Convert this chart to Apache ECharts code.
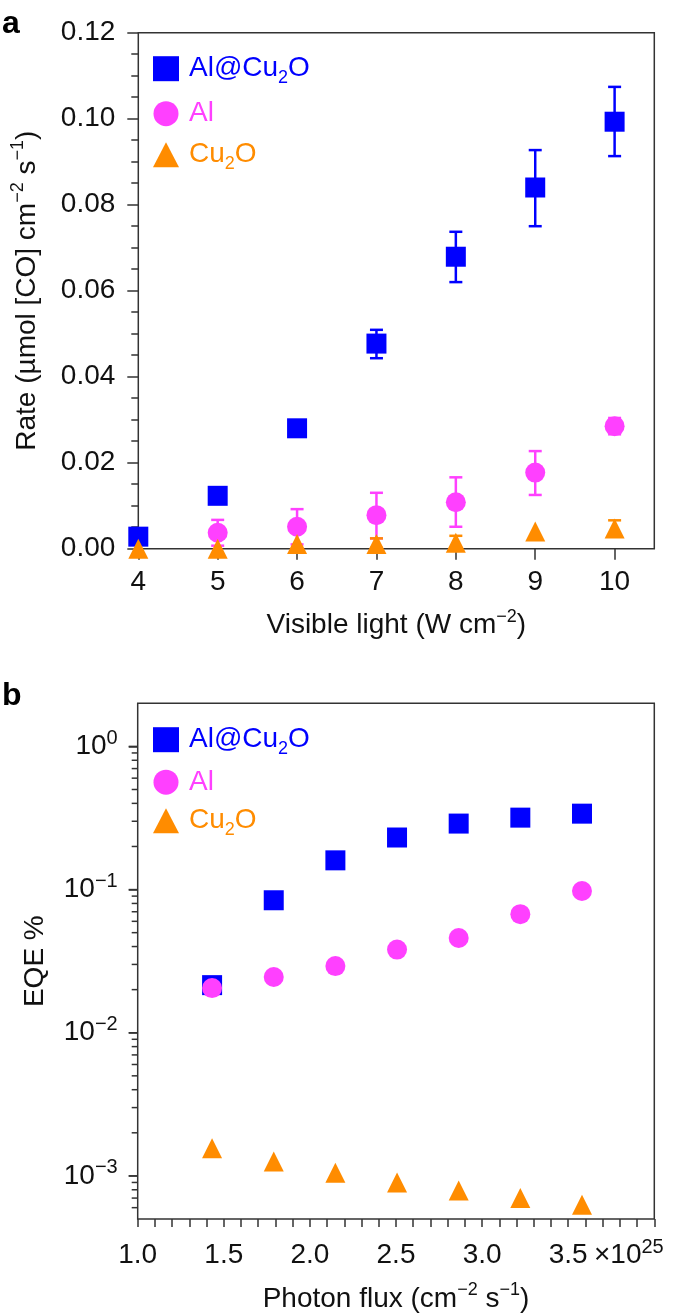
<!DOCTYPE html>
<html><head><meta charset="utf-8">
<script src="https://cdn.jsdelivr.net/npm/echarts@6/dist/echarts.min.js"></script>
<style>html,body{margin:0;padding:0;background:#fff}#c{width:675px;height:1315px}</style>
</head><body><div id="c"></div>
<script>
const FONT = '"Liberation Sans", Arial, Helvetica, sans-serif';
// ---------- Panel a data ----------
const lightPower = [4, 5, 6, 7, 8, 9, 10];
const rateAlCu2O     = [0.0028, 0.0123, 0.0280, 0.0477, 0.0679, 0.0840, 0.0993];
const rateAlCu2OLow  = [null,   null,   null,   0.0443, 0.0620, 0.0750, 0.0913];
const rateAlCu2OHigh = [null,   null,   null,   0.0509, 0.0737, 0.0927, 0.1074];
const rateAl     = [null, 0.0037, 0.0051, 0.0078, 0.0108, 0.0177, 0.0285];
const rateAlLow  = [null, 0.0007, 0.0010, 0.0024, 0.0051, 0.0125, 0.0266];
const rateAlHigh = [null, 0.0067, 0.0092, 0.0130, 0.0166, 0.0227, 0.0304];
const rateCu2O     = [0.0000, 0.0000, 0.0011, 0.0011, 0.0014, 0.0040, 0.0047];
const rateCu2OLow  = [null,   null,   null,   0.0002, 0.0002, null,   0.0030];
const rateCu2OHigh = [null,   null,   null,   0.0024, 0.0030, null,   0.0066];
const lightTicks = [4, 5, 6, 7, 8, 9, 10];
// ---------- Panel b data ----------
const photonFlux = [1.432, 1.790, 2.148, 2.506, 2.864, 3.222, 3.580];
const eqeAlCu2O = [0.0215, 0.0842, 0.160, 0.231, 0.289, 0.318, 0.339];
const eqeAl     = [0.0205, 0.0245, 0.0292, 0.0381, 0.0459, 0.0673, 0.0978];
const eqeCu2O   = [0.00156, 0.00126, 0.00105, 0.00090, 0.00079, 0.00070, 0.00063];
const fluxTickLabels = [1.0, 1.5, 2.0, 2.5, 3.0, 3.5];
const eqeMajorTicks = [0.001, 0.01, 0.1, 1];
const eqeMinorTicks = [0.0006, 0.0007, 0.0008, 0.0009,
  0.002, 0.003, 0.004, 0.005, 0.006, 0.007, 0.008, 0.009,
  0.02, 0.03, 0.04, 0.05, 0.06, 0.07, 0.08, 0.09,
  0.2, 0.3, 0.4, 0.5, 0.6, 0.7, 0.8, 0.9];
const seriesNames = ['Al@Cu2O', 'Al', 'Cu2O'];
const colors = ['#0000ff', '#ff40ff', '#ff8c00'];
const symbols = ['rect', 'circle', 'triangle'];

const AX = '#333';
const TXT = '#111';
const FLUX_MIN = 1, FLUX_MAX = 4, EQE_MIN = 0.0005, EQE_MAX = 2;

function pairs(xs, ys) { return xs.map((x, i) => [x, ys[i]]).filter(p => p[1] !== null); }
function errData(xs, lo, hi) { return xs.map((x, i) => [x, lo[i], hi[i]]).filter(p => p[1] !== null); }
function errRender(color) {
  return function (params, api) {
    const x = api.value(0), lo = api.value(1), hi = api.value(2);
    const a = api.coord([x, hi]), b = api.coord([x, lo]);
    const w = 6.5;
    const st = { stroke: color, lineWidth: 2.5 };
    return { type: 'group', children: [
      { type: 'line', shape: { x1: a[0], y1: a[1], x2: b[0], y2: b[1] }, style: st },
      { type: 'line', shape: { x1: a[0] - w, y1: a[1], x2: a[0] + w, y2: a[1] }, style: st },
      { type: 'line', shape: { x1: b[0] - w, y1: b[1], x2: b[0] + w, y2: b[1] }, style: st }
    ] };
  };
}
function tickRender(len) {
  return function (params, api) {
    const p = api.coord([api.value(0), api.value(1)]);
    return { type: 'line', shape: { x1: p[0] - len, y1: p[1], x2: p[0], y2: p[1] }, style: { stroke: AX, lineWidth: 1.5 } };
  };
}
const richBase = {
  t: { fontSize: 28, lineHeight: 36, fontFamily: FONT },
  s: { fontSize: 18, lineHeight: 23, verticalAlign: 'top', fontFamily: FONT }
};
const legendRich = {
  sp: { width: 5, lineHeight: 36 },
  t: { fontSize: 28, lineHeight: 30, fontFamily: FONT },
  sub: { fontSize: 18, lineHeight: 16, verticalAlign: 'bottom', fontFamily: FONT }
};
function legendFmt(name) {
  if (name === 'Al@Cu2O') return '{sp|}{t|Al@Cu}{sub|2}{t|O}';
  if (name === 'Cu2O') return '{sp|}{t|Cu}{sub|2}{t|O}';
  return '{sp|}{t|' + name + '}';
}
function legendCfg(top, gap) {
  return {
    left: 148, top: top, orient: 'vertical', itemWidth: 26, itemHeight: 25, itemGap: gap,
    selectedMode: false, formatter: legendFmt,
    textStyle: { rich: legendRich, fontSize: 28, fontFamily: FONT },
    data: seriesNames.map((n, i) => ({ name: n, icon: symbols[i], textStyle: { color: colors[i] } }))
  };
}
const tickStyle = { color: AX, width: 1.5 };
const option = {
  animation: false,
  backgroundColor: '#fff',
  textStyle: { fontFamily: FONT },
  grid: [
    { left: 138.3, top: 32.7, width: 516, height: 516, show: true, borderColor: AX, borderWidth: 1.5, backgroundColor: 'transparent' },
    { left: 137.7, top: 703.3, width: 516.6, height: 515.7, show: true, borderColor: AX, borderWidth: 1.5, backgroundColor: 'transparent' }
  ],
  legend: [legendCfg(49.7, 13), legendCfg(720.7, 10.5)],
  xAxis: [
    { gridIndex: 0, type: 'value', min: 4, max: 10.5, interval: 1,
      axisLine: { show: false }, splitLine: { show: false },
      axisTick: { length: 11, customValues: lightTicks, lineStyle: tickStyle },
      axisLabel: { customValues: lightTicks, margin: 18, fontSize: 28, lineHeight: 32, color: TXT, fontFamily: FONT },
      name: '{t|Visible light (W cm}{s|−2}{t|)}', nameLocation: 'middle', nameGap: 59,
      nameTextStyle: { color: TXT, rich: richBase } },
    { gridIndex: 1, type: 'value', min: FLUX_MIN, max: FLUX_MAX, interval: 0.5,
      axisLine: { show: false }, splitLine: { show: false },
      axisTick: { length: 8, lineStyle: tickStyle },
      minorTick: { show: true, splitNumber: 5, length: 8, lineStyle: tickStyle },
      axisLabel: { customValues: fluxTickLabels, formatter: v => v.toFixed(1), margin: 20, fontSize: 28, lineHeight: 32, color: TXT, fontFamily: FONT },
      name: '{t|Photon flux (cm}{s|−2}{t| s}{s|−1}{t|)}', nameLocation: 'middle', nameGap: 62,
      nameTextStyle: { color: TXT, rich: richBase } }
  ],
  yAxis: [
    { gridIndex: 0, type: 'value', min: 0, max: 0.12, interval: 0.02,
      axisLine: { show: false }, splitLine: { show: false },
      axisTick: { length: 11, lineStyle: tickStyle },
      minorTick: { show: true, splitNumber: 4, length: 7, lineStyle: tickStyle },
      axisLabel: { formatter: v => v.toFixed(2), margin: 23, fontSize: 28, color: TXT, fontFamily: FONT },
      name: '{t|Rate (µmol [CO] cm}{s|−2}{t| s}{s|−1}{t|)}', nameLocation: 'middle', nameGap: 93,
      nameTextStyle: { color: TXT, rich: richBase } },
    { gridIndex: 1, type: 'log', logBase: 10, min: EQE_MIN, max: EQE_MAX, position: 'left',
      axisLine: { show: false }, splitLine: { show: false },
      axisTick: { show: true, length: 9, customValues: eqeMajorTicks, lineStyle: tickStyle },
      axisLabel: { customValues: eqeMajorTicks, margin: 20, color: TXT,
        formatter: v => '{b|10}{e|' + String(Math.round(Math.log10(v))).replace('-', '−') + '}',
        rich: { b: { fontSize: 28, lineHeight: 36, fontFamily: FONT }, e: { fontSize: 20, lineHeight: 22, verticalAlign: 'top', fontFamily: FONT } } },
      name: 'EQE %', nameLocation: 'middle', nameGap: 80,
      nameTextStyle: { color: TXT, fontSize: 28, lineHeight: 36, fontFamily: FONT } }
  ],
  graphic: [
    { type: 'text', left: 2, top: 8, style: { text: 'a', font: 'bold 32px ' + FONT, fill: '#000' } },
    { type: 'text', left: 2, top: 680, style: { text: 'b', font: 'bold 32px ' + FONT, fill: '#000' } },
    { type: 'text', left: 594, top: 1237, style: { text: '{b|×10}{e|25}', fill: TXT,
      rich: { b: { fontSize: 28, lineHeight: 36, fontFamily: FONT }, e: { fontSize: 20, lineHeight: 22, verticalAlign: 'top', fontFamily: FONT } } } }
  ],
  series: [
    { type: 'custom', name: 'eqeMinorTicks', xAxisIndex: 1, yAxisIndex: 1, silent: true, clip: false, z: 10,
      renderItem: tickRender(6), data: eqeMinorTicks.map(v => [FLUX_MIN, v]), encode: { x: 0, y: 1 } },
    { type: 'custom', name: 'eqeMajorTicks', xAxisIndex: 1, yAxisIndex: 1, silent: true, clip: false, z: 10,
      renderItem: tickRender(9), data: eqeMajorTicks.map(v => [FLUX_MIN, v]), encode: { x: 0, y: 1 } }
  ]
};
const aVals = [rateAlCu2O, rateAl, rateCu2O];
const aLo = [rateAlCu2OLow, rateAlLow, rateCu2OLow];
const aHi = [rateAlCu2OHigh, rateAlHigh, rateCu2OHigh];
const bVals = [eqeAlCu2O, eqeAl, eqeCu2O];
for (let i = 0; i < 3; i++) {
  option.series.push({ type: 'custom', name: 'err' + i, xAxisIndex: 0, yAxisIndex: 0,
    renderItem: errRender(colors[i]), data: errData(lightPower, aLo[i], aHi[i]),
    encode: { x: 0, y: [1, 2] }, silent: true, clip: false });
  option.series.push({ type: 'scatter', name: seriesNames[i], xAxisIndex: 0, yAxisIndex: 0,
    symbol: symbols[i], symbolSize: 20, itemStyle: { color: colors[i], opacity: 1 },
    data: pairs(lightPower, aVals[i]), clip: false, emphasis: { disabled: true } });
}
for (let i = 0; i < 3; i++) {
  option.series.push({ type: 'scatter', name: seriesNames[i], xAxisIndex: 1, yAxisIndex: 1,
    symbol: symbols[i], symbolSize: 20, itemStyle: { color: colors[i], opacity: 1 },
    data: pairs(photonFlux, bVals[i]), clip: false, emphasis: { disabled: true } });
}
const chart = echarts.init(document.getElementById('c'));
chart.setOption(option);
</script>
</body></html>
